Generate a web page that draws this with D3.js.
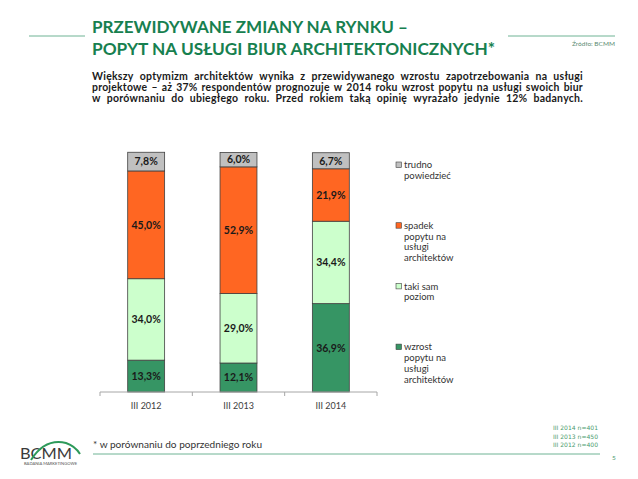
<!DOCTYPE html>
<html>
<head>
<meta charset="utf-8">
<script src="https://cdn.jsdelivr.net/npm/d3@7"></script>
<style>
  body { margin: 0; background: #fff; }
  svg { display: block; font-family: Lato, "DejaVu Sans", sans-serif; }
</style>
</head>
<body>
<svg id="chart"></svg>
<script>
const width = 638;
const height = 479;

// dane
const categories = ["III 2012", "III 2013", "III 2014"];
const seriesNames = ["wzrost", "taki sam", "spadek", "trudno"];
const wzrost = [13.3, 12.1, 36.9];
const takiSam = [34.0, 29.0, 34.4];
const spadek = [45.0, 52.9, 21.9];
const trudno = [7.8, 6.0, 6.7];
const legendLabels = [
    ["trudno", "powiedzieć"],
    ["spadek", "popytu na", "usługi", "architektów"],
    ["taki sam", "poziom"],
    ["wzrost", "popytu na", "usługi", "architektów"]
];
const sampleNotes = ["III 2014 n=401", "III 2013 n=450", "III 2012 n=400"];
const paragraph = [
    "Większy optymizm architektów wynika z przewidywanego wzrostu zapotrzebowania na usługi",
    "projektowe – aż 37% respondentów prognozuje w 2014 roku wzrost popytu na usługi swoich biur",
    "w porównaniu do ubiegłego roku. Przed rokiem taką opinię wyrażało jedynie 12% badanych."
];

const colors = {
    "wzrost": "#369564",
    "taki sam": "#ccffcc",
    "spadek": "#ff6622",
    "trudno": "#c0c0c0"
};
const green = "#17804f";
const lineGreen = "#6fb394";

let svg = d3.select("#chart")
    .attr("width", width)
    .attr("height", height);

// nagłówek
svg.append("line")
    .attr("x1", 29).attr("x2", 85).attr("y1", 36).attr("y2", 36)
    .attr("stroke", lineGreen).attr("stroke-width", 1);
svg.append("line")
    .attr("x1", 508).attr("x2", 615).attr("y1", 36).attr("y2", 36)
    .attr("stroke", lineGreen).attr("stroke-width", 1);

svg.append("text")
    .attr("x", 92).attr("y", 33)
    .attr("textLength", 316).attr("lengthAdjust", "spacingAndGlyphs")
    .style("font-size", "17px").style("font-weight", "bold").style("fill", green)
    .text("PRZEWIDYWANE ZMIANY NA RYNKU –");
svg.append("text")
    .attr("x", 92).attr("y", 55)
    .attr("textLength", 403).attr("lengthAdjust", "spacingAndGlyphs")
    .style("font-size", "17px").style("font-weight", "bold").style("fill", green)
    .text("POPYT NA USŁUGI BIUR ARCHITEKTONICZNYCH*");

svg.append("text")
    .attr("x", 615).attr("y", 46)
    .attr("text-anchor", "end")
    .style("font-size", "6.5px").style("fill", "#5a8a72")
    .text("Źródło: BCMM");

// akapit - wyjustowany słowo po słowie
function justifyLine(str, x0, x1, y) {
    const words = str.split(" ");
    const g = svg.append("g");
    const nodes = words.map(w => g.append("text")
        .attr("y", y)
        .style("font-size", "10.5px").style("font-weight", "bold")
        .style("letter-spacing", "0.25px").style("fill", "#1a1a1a")
        .text(w));
    const widths = nodes.map(n => n.node().getComputedTextLength());
    let total = d3.sum(widths);
    let scale = 1;
    const minGap = 4 * (words.length - 1);
    if (total + minGap > x1 - x0) {
        scale = (x1 - x0 - minGap) / total;
    }
    const gap = (x1 - x0 - total * scale) / (words.length - 1);
    let x = x0;
    nodes.forEach((n, i) => {
        n.attr("x", x);
        if (scale < 1) n.attr("textLength", widths[i] * scale).attr("lengthAdjust", "spacingAndGlyphs");
        x += widths[i] * scale + gap;
    });
}
paragraph.forEach((line, i) => justifyLine(line, 92, 583, 80 + i * 11));

// wykres
const marginLeft = 100;
const plotWidth = 277;
const yTop = 152.5;
const yBottom = 392;

let scaleX = d3.scaleBand()
    .domain(categories)
    .range([marginLeft, marginLeft + plotWidth])
    .paddingInner(0.6)
    .paddingOuter(0.3);
let scaleY = d3.scaleLinear()
    .domain([0, 100])
    .range([yBottom, yTop]);

const rows = categories.map((c, i) => ({
    cat: c,
    "wzrost": wzrost[i],
    "taki sam": takiSam[i],
    "spadek": spadek[i],
    "trudno": trudno[i]
}));
const stacked = d3.stack().keys(seriesNames)(rows);

let layers = svg.append("g")
    .selectAll("g")
    .data(stacked)
    .enter()
    .append("g")
    .style("fill", d => colors[d.key]);

layers.selectAll("rect")
    .data(d => d)
    .enter()
    .append("rect")
    .attr("x", d => scaleX(d.data.cat))
    .attr("y", d => scaleY(d[1]))
    .attr("width", scaleX.bandwidth())
    .attr("height", d => scaleY(d[0]) - scaleY(d[1]))
    .attr("stroke", "#404040")
    .attr("stroke-width", 0.8);

layers.selectAll("text")
    .data(d => d)
    .enter()
    .append("text")
    .attr("x", d => scaleX(d.data.cat) + scaleX.bandwidth() / 2)
    .attr("y", d => (scaleY(d[0]) + scaleY(d[1])) / 2)
    .attr("dy", "0.36em")
    .attr("text-anchor", "middle")
    .style("font-size", "10.5px")
    .style("font-weight", "bold")
    .style("fill", "#1a1a1a")
    .text(d => d3.format(".1f")(d[1] - d[0]).replace(".", ",") + "%");

// oś X
let axisScale = d3.scaleBand().domain(categories).range([marginLeft, marginLeft + plotWidth]);
let axisG = svg.append("g")
    .attr("transform", `translate(0, ${yBottom})`);
axisG.append("line")
    .attr("x1", marginLeft).attr("x2", marginLeft + plotWidth)
    .attr("stroke", "#a6a6a6");
axisG.selectAll(".tick")
    .data(categories.concat([null]))
    .enter()
    .append("line")
    .attr("x1", d => d ? axisScale(d) : marginLeft + plotWidth)
    .attr("x2", d => d ? axisScale(d) : marginLeft + plotWidth)
    .attr("y1", 0).attr("y2", 4)
    .attr("stroke", "#a6a6a6");
axisG.selectAll(".lbl")
    .data(categories)
    .enter()
    .append("text")
    .attr("x", d => axisScale(d) + axisScale.bandwidth() / 2)
    .attr("y", 17)
    .attr("text-anchor", "middle")
    .style("font-size", "9px")
    .style("fill", "#404040")
    .text(d => d);

// legenda
const legendKeys = ["trudno", "spadek", "taki sam", "wzrost"];
let legend = svg.append("g");
legendKeys.forEach((k, i) => {
    const y0 = 165 + i * 60.7;
    legend.append("rect")
        .attr("x", 396).attr("y", y0 - 3)
        .attr("width", 5.5).attr("height", 5.5)
        .style("fill", colors[k])
        .attr("stroke", "#404040").attr("stroke-width", 0.6);
    legendLabels[i].forEach((t, j) => {
        legend.append("text")
            .attr("x", 404).attr("y", y0 + j * 10.7)
            .attr("dy", "0.35em")
            .style("font-size", "9.5px")
            .style("fill", "#333")
            .text(t);
    });
});

// stopka
svg.append("text")
    .attr("x", 93).attr("y", 448)
    .style("font-size", "10px").style("fill", "#333")
    .attr("textLength", 169).attr("lengthAdjust", "spacingAndGlyphs")
    .text("* w porównaniu do poprzedniego roku");
svg.append("line")
    .attr("x1", 93).attr("x2", 600).attr("y1", 454).attr("y2", 454)
    .attr("stroke", lineGreen).attr("stroke-width", 1);

sampleNotes.forEach((t, i) => {
    svg.append("text")
        .attr("x", 553).attr("y", 430 + i * 8.7)
        .attr("textLength", 45).attr("lengthAdjust", "spacingAndGlyphs")
        .style("font-family", "'DejaVu Sans', sans-serif")
        .style("font-size", "6px").style("fill", "#4a9a6e")
        .text(t);
});
svg.append("text")
    .attr("x", 612).attr("y", 460)
    .style("font-size", "6.5px").style("fill", "#4a9a6e")
    .text("5");

// logo
let logo = svg.append("g");
logo.append("text")
    .attr("x", 20).attr("y", 459)
    .attr("textLength", 52).attr("lengthAdjust", "spacingAndGlyphs")
    .style("font-size", "15px").style("fill", "#3a3a3a")
    .text("BCMM");
logo.append("path")
    .attr("d", "M31,460 Q45,438 66,443 Q75,446 80,454")
    .attr("fill", "none")
    .attr("stroke", "#2e9a5a")
    .attr("stroke-width", 2);
logo.append("text")
    .attr("x", 24).attr("y", 465)
    .attr("textLength", 53).attr("lengthAdjust", "spacingAndGlyphs")
    .style("font-size", "3.5px").style("fill", "#555")
    .text("BADANIA MARKETINGOWE");
</script>
</body>
</html>
